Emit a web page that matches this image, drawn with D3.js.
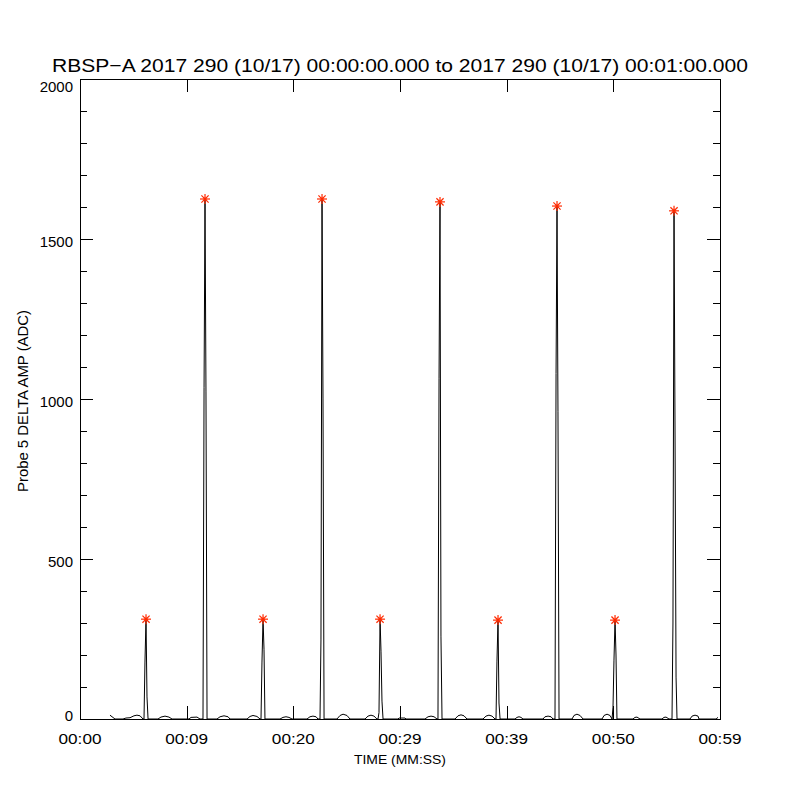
<!DOCTYPE html>
<html>
<head>
<meta charset="utf-8">
<script src="https://cdn.jsdelivr.net/npm/d3@7"></script>
<style>
  body { margin: 0; background: #fff; }
  text { font-family: "Liberation Sans", "DejaVu Sans", sans-serif; fill: #000; }
</style>
</head>
<body>
<div id="chart"></div>
<script>
// Sample times (s) and delta amplitudes (ADC)
const sampleTimes = [
  2.81, 3.28,
  4.03, 4.31, 4.69, 5.06, 5.34, 5.63, 5.91,
  6.00, 6.09, 6.19, 6.28, 6.38,
  7.31, 7.59, 7.97, 8.34, 8.63,
  10.22, 10.41, 10.97, 11.25,
  11.53, 11.63, 11.72, 11.81, 11.91,
  12.84, 13.13, 13.50, 13.88, 14.06,
  15.66, 15.94, 16.22, 16.59, 16.88,
  16.97, 17.06, 17.16, 17.25, 17.34,
  18.75, 19.03, 19.31, 19.59, 19.88,
  21.28, 21.56, 21.84, 22.13, 22.31,
  22.50, 22.59, 22.69, 22.78, 22.88,
  24.09, 24.38, 24.66, 25.03, 25.31,
  26.72, 27.00, 27.28, 27.56, 27.84,
  27.94, 28.03, 28.13, 28.22, 28.31, 28.41,
  29.81, 29.91, 30.47, 30.56,
  32.34, 32.63, 32.91, 33.19, 33.47,
  33.56, 33.66, 33.75, 33.84, 33.94,
  35.16, 35.44, 35.72, 36.00, 36.28,
  37.78, 38.06, 38.34, 38.63, 38.91,
  39.00, 39.09, 39.19, 39.28, 39.38,
  40.78, 40.97, 41.16, 41.34, 41.53,
  43.41, 43.59, 43.88, 44.16, 44.34,
  44.53, 44.63, 44.72, 44.81, 44.91,
  46.13, 46.31, 46.59, 46.88, 47.16,
  48.94, 49.13, 49.41, 49.69, 49.88,
  49.97, 50.06, 50.16, 50.25, 50.34,
  51.84, 52.03, 52.22, 52.50,
  54.56, 54.75, 54.94, 55.22,
  55.50, 55.59, 55.69, 55.78, 55.88, 55.97,
  57.19, 57.38, 57.66, 57.94, 58.03,
  59.63, 59.81
];
const sampleAmps = [
  12, 0,
  0, 3, 4, 10, 12, 10, 0,
  0, 178, 312, 69, 0,
  0, 6, 9, 6, 0,
  0, 5, 6, 0,
  0, 1035, 1625, 1022, 0,
  0, 7, 10, 7, 0,
  0, 8, 11, 8, 0,
  0, 178, 312, 218, 0,
  0, 5, 7, 5, 0,
  0, 7, 9, 7, 0,
  0, 247, 1625, 1003, 0,
  0, 11, 15, 11, 0,
  0, 9, 12, 9, 0,
  0, 20, 312, 212, 56, 0,
  0, 3, 3, 0,
  0, 7, 9, 7, 0,
  0, 1065, 1616, 259, 0,
  0, 10, 13, 10, 0,
  0, 9, 12, 9, 0,
  0, 181, 309, 50, 0,
  0, 5, 7, 5, 0,
  0, 7, 9, 7, 0,
  0, 1080, 1603, 960, 0,
  0, 11, 15, 11, 0,
  0, 11, 15, 11, 0,
  37, 184, 309, 200, 0,
  0, 5, 6, 0,
  0, 5, 6, 0,
  0, 300, 1588, 925, 131, 0,
  0, 9, 12, 9, 0,
  0, 5
];

// Detected peaks (red asterisks)
const peakTimes = [6.19, 11.72, 17.16, 22.69, 28.13, 33.75, 39.19, 44.72, 50.16, 55.69];
const peakAmps = [312, 1625, 312, 1625, 312, 1616, 309, 1603, 309, 1588];

// Axis ticks
const xTickValues = [0, 10, 20, 30, 40, 50, 60];
const xTickLabels = ["00:00", "00:09", "00:20", "00:29", "00:39", "00:50", "00:59"];
const yTickValues = [0, 500, 1000, 1500, 2000];
const yMinorValues = [100, 200, 300, 400, 600, 700, 800, 900, 1100, 1200, 1300, 1400, 1600, 1700, 1800, 1900];

const titleText = "RBSP\u2212A 2017 290 (10/17) 00:00:00.000 to 2017 290 (10/17) 00:01:00.000";
const xTitle = "TIME (MM:SS)";
const yTitle = "Probe 5 DELTA AMP (ADC)";

/**
* Draw the whole plot inside #chart
*/
function drawPlot() {
    const width = 800, height = 800;
    const left = 80, right = 720, top = 79, bottom = 719;
    const majorLen = 13, minorLen = 7;

    const svg = d3.select("#chart").append("svg")
        .attr("width", width)
        .attr("height", height);

    const x = d3.scaleLinear().domain([0, 60]).range([left, right]);
    const y = d3.scaleLinear().domain([0, 2000]).range([bottom, top]);

    // Frame
    svg.append("rect")
        .attr("x", left + 0.5).attr("y", top + 0.5)
        .attr("width", right - left).attr("height", bottom - top)
        .attr("fill", "none").attr("stroke", "#000").attr("stroke-width", 1);

    // Ticks on all four sides
    const tickG = svg.append("g").attr("stroke", "#000").attr("stroke-width", 1);
    xTickValues.forEach(function (v) {
        const px = Math.round(x(v)) + 0.5;
        tickG.append("line").attr("x1", px).attr("x2", px).attr("y1", bottom).attr("y2", bottom - majorLen);
        tickG.append("line").attr("x1", px).attr("x2", px).attr("y1", top).attr("y2", top + majorLen);
    });
    yTickValues.forEach(function (v) {
        const py = Math.round(y(v)) + 0.5;
        tickG.append("line").attr("x1", left).attr("x2", left + majorLen).attr("y1", py).attr("y2", py);
        tickG.append("line").attr("x1", right).attr("x2", right - majorLen).attr("y1", py).attr("y2", py);
    });
    yMinorValues.forEach(function (v) {
        const py = Math.round(y(v)) + 0.5;
        tickG.append("line").attr("x1", left).attr("x2", left + minorLen).attr("y1", py).attr("y2", py);
        tickG.append("line").attr("x1", right).attr("x2", right - minorLen).attr("y1", py).attr("y2", py);
    });

    // Tick labels (IDL nudges the end labels inside the axis range)
    svg.append("g").selectAll("text").data(xTickValues).enter().append("text")
        .attr("x", function (d) { return x(d); })
        .attr("y", bottom + 25)
        .attr("text-anchor", "middle")
        .attr("font-size", 15)
        .attr("textLength", 43)
        .attr("lengthAdjust", "spacingAndGlyphs")
        .text(function (d, i) { return xTickLabels[i]; });
    const yMax = d3.max(yTickValues), yMin = d3.min(yTickValues);
    svg.append("g").selectAll("text").data(yTickValues).enter().append("text")
        .attr("x", left - 7)
        .attr("y", function (d) {
            const shift = d === yMax ? 12.5 : (d === yMin ? 1.5 : 8);
            return y(d) + shift;
        })
        .attr("text-anchor", "end")
        .attr("font-size", 15)
        .text(function (d) { return d; });

    // Titles
    svg.append("text")
        .attr("x", 400).attr("y", 72)
        .attr("text-anchor", "middle")
        .attr("font-size", 19)
        .attr("textLength", 696)
        .attr("lengthAdjust", "spacingAndGlyphs")
        .text(titleText);
    svg.append("text")
        .attr("x", 400).attr("y", 764)
        .attr("text-anchor", "middle")
        .attr("font-size", 13.5)
        .attr("textLength", 92)
        .attr("lengthAdjust", "spacingAndGlyphs")
        .text(xTitle);
    svg.append("text")
        .attr("transform", "translate(28,401) rotate(-90)")
        .attr("text-anchor", "middle")
        .attr("font-size", 14)
        .attr("textLength", 182)
        .attr("lengthAdjust", "spacingAndGlyphs")
        .text(yTitle);

    // Trace
    const samples = sampleTimes.map(function (t, i) { return [t, sampleAmps[i]]; });
    const line = d3.line()
        .x(function (d) { return x(d[0]); })
        .y(function (d) { return y(d[1]); });
    svg.append("path")
        .datum(samples)
        .attr("d", line)
        .attr("fill", "none")
        .attr("stroke", "#000")
        .attr("stroke-width", 1);

    // Peak asterisks
    const peaks = peakTimes.map(function (t, i) { return {x: x(t), y: y(peakAmps[i])}; });
    const s = 5, d2 = 3.6;
    const star = svg.append("g").attr("stroke", "#ff2a00").attr("stroke-width", 1.2)
        .selectAll("g").data(peaks).enter().append("g")
        .attr("transform", function (d) { return "translate(" + d.x + "," + d.y + ")"; });
    star.append("line").attr("x1", -s).attr("x2", s).attr("y1", 0).attr("y2", 0);
    star.append("line").attr("x1", 0).attr("x2", 0).attr("y1", -s).attr("y2", s);
    star.append("line").attr("x1", -d2).attr("x2", d2).attr("y1", -d2).attr("y2", d2);
    star.append("line").attr("x1", -d2).attr("x2", d2).attr("y1", d2).attr("y2", -d2);
    star.append("circle").attr("r", 1.6).attr("fill", "#ff2a00").attr("stroke", "none");
}

drawPlot();
</script>
</body>
</html>
